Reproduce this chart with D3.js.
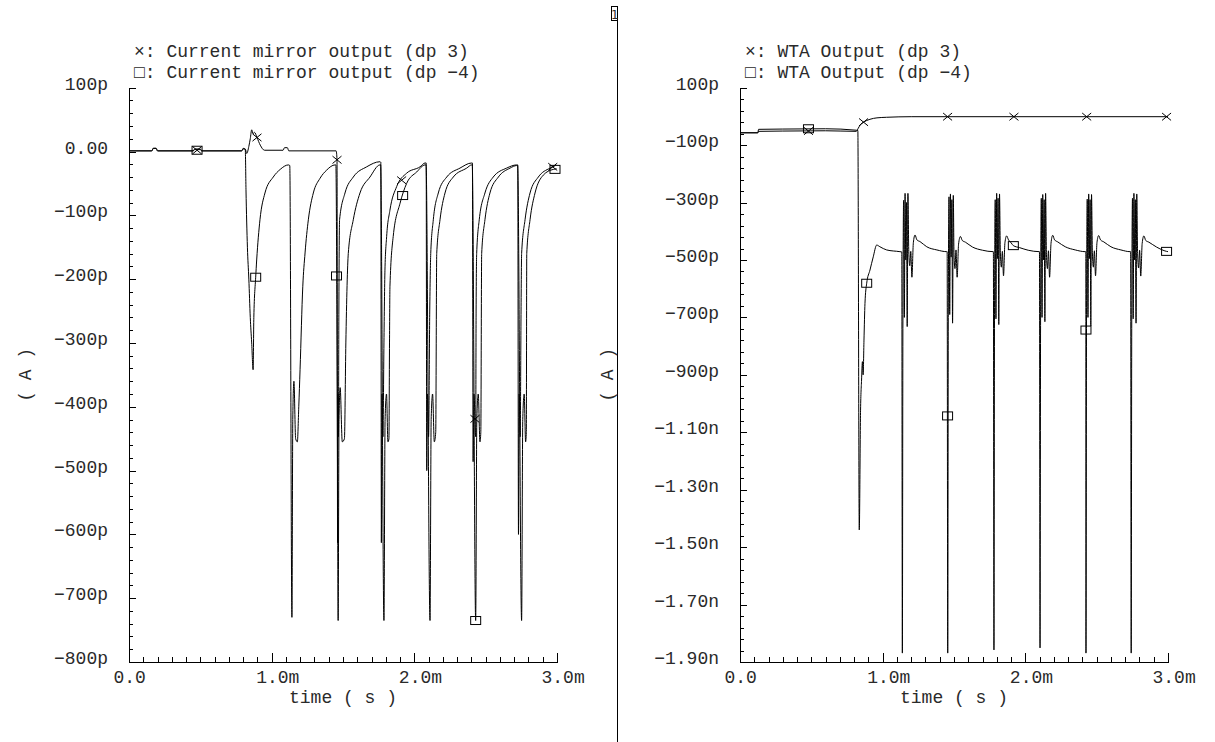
<!DOCTYPE html>
<html>
<head>
<meta charset="utf-8">
<script src="https://cdnjs.cloudflare.com/ajax/libs/d3/7.8.5/d3.min.js"></script>
<style>
    body { margin: 0; background: #fff; }
    svg text { font-family: "Liberation Mono", "DejaVu Sans Mono", monospace; font-size: 18px; fill: #2a2a2a; letter-spacing: 0px; }
    .axis path, .axis line { stroke: #000; shape-rendering: crispEdges; }
    .trace { fill: none; stroke: #000; stroke-width: 1; }
    .mark { fill: none; stroke: #000; stroke-width: 1; }
</style>
</head>
<body>
<div id="chart"></div>
<script>

// time axis (ms)
var xTickValues = [0, 1, 2, 3];
var xTickLabels = ["0.0", "1.0m", "2.0m", "3.0m"];

// left panel: current mirror output (pA)
var mirrorTickValues = [100, 0, -100, -200, -300, -400, -500, -600, -700, -800];
var mirrorTickLabels = ["100p", "0.00", "\u2212100p", "\u2212200p", "\u2212300p", "\u2212400p", "\u2212500p", "\u2212600p", "\u2212700p", "\u2212800p"];

// right panel: WTA output (pA)
var wtaTickValues = [100, -100, -300, -500, -700, -900, -1100, -1300, -1500, -1700, -1900];
var wtaTickLabels = ["100p", "\u2212100p", "\u2212300p", "\u2212500p", "\u2212700p", "\u2212900p", "\u22121.10n", "\u22121.30n", "\u22121.50n", "\u22121.70n", "\u22121.90n"];

// [time ms, current pA]
var mirrorDp3 = [
    [0, 1], [0.16, 1], [0.17, 5], [0.19, 5], [0.2, 1],
    [0.45, 1], [0.46, 3], [0.5, 3], [0.51, 1],
    [0.79, 1], [0.8, 5], [0.815, 4], [0.825, -3], [0.84, 8], [0.85, 20], [0.86, 34], [0.87, 28], [0.88, 30], [0.897, 22], [0.92, 10], [0.95, 2],
    [1.08, 2], [1.09, 6], [1.11, 6], [1.12, 1], [1.452, 1],
    [1.458, -13], [1.462, -613], [1.465, -380], [1.468, -447], [1.471, -250], [1.476, -107], [1.514, -65], [1.572, -40], [1.666, -24], [1.759, -16],
    [1.765, -17], [1.769, -613], [1.773, -380], [1.78, -447], [1.787, -300], [1.794, -186], [1.806, -133], [1.829, -92], [1.876, -55], [1.946, -34], [2.04, -24], [2.075, -18],
    [2.083, -18], [2.087, -500], [2.092, -380], [2.1, -447], [2.108, -250], [2.115, -160], [2.133, -107], [2.168, -65], [2.227, -40], [2.32, -26], [2.402, -18],
    [2.407, -18], [2.412, -486], [2.418, -380], [2.43, -447], [2.433, -250], [2.437, -160], [2.455, -107], [2.495, -65], [2.553, -40], [2.647, -26], [2.717, -21],
    [2.725, -21], [2.73, -600], [2.735, -380], [2.742, -447], [2.748, -250], [2.752, -160], [2.776, -107], [2.811, -65], [2.869, -40], [2.951, -26], [2.99, -22]
];

var mirrorDpM4 = [
    [0, 1], [0.16, 1], [0.17, 5], [0.19, 5], [0.2, 1],
    [0.45, 1], [0.46, 4], [0.5, 4], [0.51, 1],
    [0.79, 1], [0.8, 4], [0.815, 3],
    [0.82, -60], [0.83, -150], [0.84, -200], [0.85, -260], [0.86, -300], [0.87, -342],
    [0.875, -260], [0.888, -197], [0.895, -170], [0.918, -107], [0.953, -65], [1.011, -40], [1.06, -28], [1.117, -21],
    [1.127, -22], [1.142, -730], [1.148, -420], [1.156, -360], [1.168, -450], [1.18, -455], [1.19, -400], [1.199, -342], [1.218, -212], [1.234, -159], [1.257, -107], [1.292, -65], [1.339, -42], [1.386, -29], [1.444, -21],
    [1.45, -21], [1.46, -400], [1.466, -735], [1.472, -420], [1.48, -370], [1.495, -455], [1.51, -450], [1.52, -300], [1.537, -160], [1.572, -107], [1.619, -65], [1.689, -40], [1.759, -21],
    [1.764, -21], [1.787, -735], [1.795, -420], [1.805, -380], [1.815, -455], [1.822, -450], [1.826, -300], [1.829, -212], [1.852, -133], [1.9, -81], [1.946, -50], [2.017, -32], [2.075, -21],
    [2.082, -21], [2.11, -735], [2.118, -420], [2.128, -380], [2.14, -455], [2.15, -440], [2.157, -160], [2.18, -107], [2.215, -65], [2.273, -40], [2.367, -26], [2.402, -21],
    [2.406, -21], [2.43, -735], [2.438, -420], [2.448, -380], [2.46, -455], [2.466, -440], [2.472, -160], [2.495, -107], [2.53, -65], [2.589, -40], [2.671, -26], [2.717, -22],
    [2.724, -22], [2.752, -735], [2.76, -420], [2.77, -380], [2.78, -455], [2.785, -440], [2.788, -160], [2.811, -107], [2.846, -65], [2.904, -37], [2.974, -28], [2.997, -27]
];

var wtaDp3 = [
    [0, -57], [0.125, -57], [0.13, -52], [0.3, -51], [0.6, -50], [0.815, -52],
    [0.829, -41], [0.845, -28], [0.866, -20], [0.911, -10], [0.96, -5], [1.028, -3], [1.2, -1], [3.0, -1]
];

var wtaDpM4 = [
    [0, -57], [0.125, -57], [0.13, -45], [0.3, -44], [0.6, -43], [0.815, -48], [0.826, -49],
    [0.836, -1440], [0.845, -1023], [0.852, -918], [0.858, -854], [0.863, -900], [0.869, -779], [0.876, -651], [0.888, -581],
    [0.911, -535], [0.934, -489], [0.958, -448], [0.981, -454], [1.028, -465], [1.121, -471],
    [1.134, -472], [1.138, -1869], [1.142, -690], [1.147, -292], [1.152, -700], [1.157, -268], [1.162, -500], [1.167, -300], [1.172, -732], [1.177, -268],
    [1.183, -470], [1.19, -520], [1.197, -470], [1.205, -560], [1.215, -440], [1.227, -413], [1.24, -430], [1.262, -436], [1.309, -454], [1.38, -465], [1.449, -471],
    [1.452, -471], [1.456, -1869], [1.46, -700], [1.465, -280], [1.47, -690], [1.475, -270], [1.48, -490], [1.485, -290], [1.49, -720], [1.495, -275],
    [1.5, -480], [1.507, -530], [1.514, -465], [1.522, -560], [1.532, -445], [1.545, -418], [1.558, -432], [1.58, -438], [1.63, -455], [1.7, -466], [1.775, -471],
    [1.776, -471], [1.78, -1858], [1.784, -690], [1.789, -290], [1.794, -705], [1.799, -268], [1.804, -495], [1.809, -285], [1.814, -725], [1.819, -270],
    [1.825, -475], [1.832, -525], [1.839, -470], [1.847, -555], [1.857, -440], [1.869, -416], [1.882, -430], [1.9, -440], [1.916, -450], [1.96, -457], [2.02, -466], [2.098, -471],
    [2.099, -471], [2.103, -1851], [2.107, -680], [2.112, -285], [2.117, -700], [2.122, -272], [2.127, -500], [2.132, -290], [2.137, -715], [2.142, -268],
    [2.148, -480], [2.155, -530], [2.162, -468], [2.17, -560], [2.18, -442], [2.192, -414], [2.205, -430], [2.227, -437], [2.28, -454], [2.35, -465], [2.42, -471],
    [2.424, -471], [2.425, -1869], [2.429, -690], [2.434, -288], [2.439, -700], [2.444, -270], [2.449, -495], [2.454, -290], [2.459, -730], [2.464, -272],
    [2.47, -475], [2.477, -525], [2.484, -468], [2.492, -555], [2.502, -440], [2.514, -415], [2.527, -430], [2.55, -437], [2.6, -454], [2.67, -465], [2.734, -471],
    [2.738, -471], [2.742, -1869], [2.746, -690], [2.751, -285], [2.756, -705], [2.761, -268], [2.766, -500], [2.771, -290], [2.776, -720], [2.781, -270],
    [2.787, -478], [2.794, -528], [2.801, -466], [2.809, -556], [2.819, -442], [2.831, -416], [2.844, -432], [2.866, -438], [2.92, -455], [2.99, -470], [3.0, -471]
];

// marker positions along each trace
var mirrorDp3Marks = [[0.477, 2], [0.897, 22], [1.458, -13], [1.911, -45], [2.425, -419], [2.97, -24]];
var mirrorDpM4Marks = [[0.477, 2], [0.888, -197], [1.4545, -195], [1.918, -69], [2.43, -735], [2.986, -28]];
var wtaDp3Marks = [[0.48, -51], [0.866, -20], [1.455, -1], [1.92, -1], [2.43, -1], [2.99, -1]];
var wtaDpM4Marks = [[0.48, -43], [0.888, -581], [1.455, -1043], [1.916, -450], [2.425, -744], [2.99, -470]];


WavePanel = function(_svg, _opts) {
    this.svg = _svg;
    this.opts = _opts;
    this.initVis();
};

WavePanel.prototype.initVis = function() {
    var vis = this;
    var o = vis.opts;

    vis.top = 87.7;
    vis.bottom = 662;
    vis.width = 428;

    vis.x = d3.scaleLinear()
        .domain([0, 3])
        .range([o.left, o.left + vis.width]);

    vis.y = d3.scaleLinear()
        .domain(o.yDomain)
        .range([vis.bottom, vis.top]);

    vis.g = vis.svg.append("g");

    // minor ticks first, major on top
    vis.g.append("g")
        .attr("class", "axis")
        .attr("transform", "translate(0," + vis.bottom + ")")
        .call(d3.axisBottom(vis.x).tickValues(d3.range(0, 31).map(function(d) { return d / 10; }))
            .tickSize(-5).tickSizeOuter(0).tickFormat(""));

    var xAxis = vis.g.append("g")
        .attr("class", "axis")
        .attr("transform", "translate(0," + vis.bottom + ")")
        .call(d3.axisBottom(vis.x).tickValues(xTickValues)
            .tickSize(-9).tickSizeOuter(0)
            .tickFormat(function(d, i) { return xTickLabels[i]; }));

    // the number part is centred on the tick, unit hangs off to the right
    xAxis.selectAll("text")
        .attr("text-anchor", "start")
        .attr("font-size", null)
        .attr("font-family", null)
        .attr("x", -16)
        .attr("y", 21)
        .attr("dy", 0);

    vis.g.append("g")
        .attr("class", "axis")
        .attr("transform", "translate(" + o.left + ",0)")
        .call(d3.axisLeft(vis.y).tickValues(o.minorTicks)
            .tickSize(-4).tickSizeOuter(0).tickFormat(""));

    var yAxis = vis.g.append("g")
        .attr("class", "axis")
        .attr("transform", "translate(" + o.left + ",0)")
        .call(d3.axisLeft(vis.y).tickValues(o.tickValues)
            .tickSize(-7).tickSizeOuter(0)
            .tickFormat(function(d, i) { return o.tickLabels[i]; }));

    yAxis.selectAll("text")
        .attr("font-size", null)
        .attr("font-family", null)
        .attr("x", -21)
        .attr("dy", 1.5);

    vis.g.selectAll(".axis text").style("fill", "#2a2a2a");

    // axis titles
    vis.g.append("text")
        .attr("x", o.left + vis.width / 2)
        .attr("y", 703)
        .attr("text-anchor", "middle")
        .text("time ( s )");

    vis.g.append("text")
        .attr("transform", "translate(" + o.unitX + "," + (vis.top + vis.bottom) / 2 + ") rotate(-90)")
        .attr("text-anchor", "middle")
        .attr("dy", "0.35em")
        .text("( A )");

    // legend
    vis.g.append("text")
        .attr("x", o.left + 5)
        .attr("y", 57)
        .text("\u00d7: " + o.name + " (dp 3)");

    vis.g.append("text")
        .attr("x", o.left + 5)
        .attr("y", 78)
        .text("\u25a1: " + o.name + " (dp \u22124)");

    vis.wrangleData();
};

WavePanel.prototype.wrangleData = function() {
    var vis = this;
    vis.traces = vis.opts.traces;
    vis.updateVis();
};

WavePanel.prototype.updateVis = function() {
    var vis = this;

    var line = d3.line()
        .x(function(d) { return vis.x(d[0]); })
        .y(function(d) { return vis.y(d[1]); })
        .curve(d3.curveMonotoneX);

    vis.g.selectAll(".trace")
        .data(vis.traces)
        .enter().append("path")
        .attr("class", "trace")
        .attr("d", function(d) { return line(d.values); });

    vis.traces.forEach(function(t) {
        var m = vis.g.selectAll(".mk-" + t.key)
            .data(t.marks)
            .enter().append("g")
            .attr("class", "mk-" + t.key)
            .attr("transform", function(d) { return "translate(" + vis.x(d[0]) + "," + vis.y(d[1]) + ")"; });

        if (t.symbol == "cross") {
            m.append("path")
                .attr("class", "mark")
                .attr("d", "M-4.5,-3.7L4.5,3.7M-4.5,3.7L4.5,-3.7");
        } else {
            m.append("rect")
                .attr("class", "mark")
                .attr("x", -5)
                .attr("y", -4)
                .attr("width", 10)
                .attr("height", 8);
        }
    });
};


var svg = d3.select("#chart").append("svg")
    .attr("width", 1215)
    .attr("height", 742);

svg.append("rect")
    .attr("width", 1215)
    .attr("height", 742)
    .attr("fill", "#fff");

// window divider and the little "1" tag
svg.append("line")
    .attr("x1", 617.5).attr("x2", 617.5)
    .attr("y1", 6.5).attr("y2", 742)
    .attr("stroke", "#000");

svg.append("rect")
    .attr("x", 611.5).attr("y", 6.5)
    .attr("width", 6).attr("height", 14)
    .attr("fill", "none")
    .attr("stroke", "#000");

svg.append("text")
    .attr("x", 614.7).attr("y", 18.5)
    .attr("text-anchor", "middle")
    .style("font-family", "DejaVu Sans")
    .style("font-size", "12px")
    .text("1");

new WavePanel(svg, {
    left: 129,
    unitX: 25,
    name: "Current mirror output",
    yDomain: [-800, 100],
    tickValues: mirrorTickValues,
    tickLabels: mirrorTickLabels,
    minorTicks: d3.range(-800, 101, 20),
    traces: [
        { key: "a", values: mirrorDp3, marks: mirrorDp3Marks, symbol: "cross" },
        { key: "b", values: mirrorDpM4, marks: mirrorDpM4Marks, symbol: "square" }
    ]
});

new WavePanel(svg, {
    left: 740,
    unitX: 607,
    name: "WTA Output",
    yDomain: [-1900, 100],
    tickValues: wtaTickValues,
    tickLabels: wtaTickLabels,
    minorTicks: d3.range(-1900, 101, 40),
    traces: [
        { key: "a", values: wtaDp3, marks: wtaDp3Marks, symbol: "cross" },
        { key: "b", values: wtaDpM4, marks: wtaDpM4Marks, symbol: "square" }
    ]
});

</script>
</body>
</html>
